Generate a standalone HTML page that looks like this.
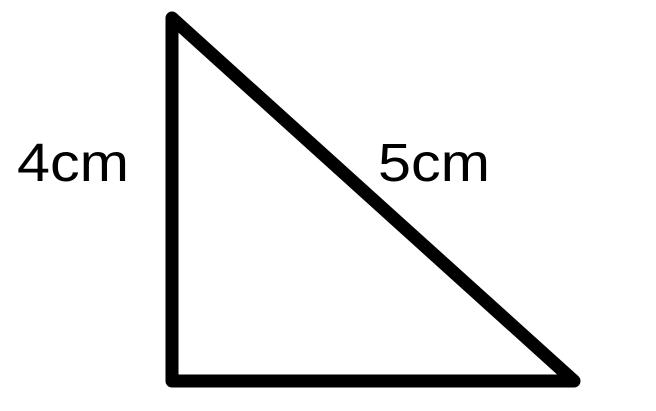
<!DOCTYPE html>
<html><head><meta charset="utf-8"><style>
html,body{margin:0;padding:0;background:#fff;width:656px;height:411px;overflow:hidden}
text{font-family:"Liberation Sans",sans-serif;font-size:54px;fill:#000}
</style></head><body>
<svg width="656" height="411" viewBox="0 0 656 411">
<polygon points="172,18 172,381 574,381" fill="none" stroke="#000" stroke-width="13" stroke-linejoin="round"/>
<text x="17" y="181" textLength="112" lengthAdjust="spacingAndGlyphs">4cm</text>
<text x="378" y="181" textLength="112" lengthAdjust="spacingAndGlyphs">5cm</text>
</svg>
</body></html>
